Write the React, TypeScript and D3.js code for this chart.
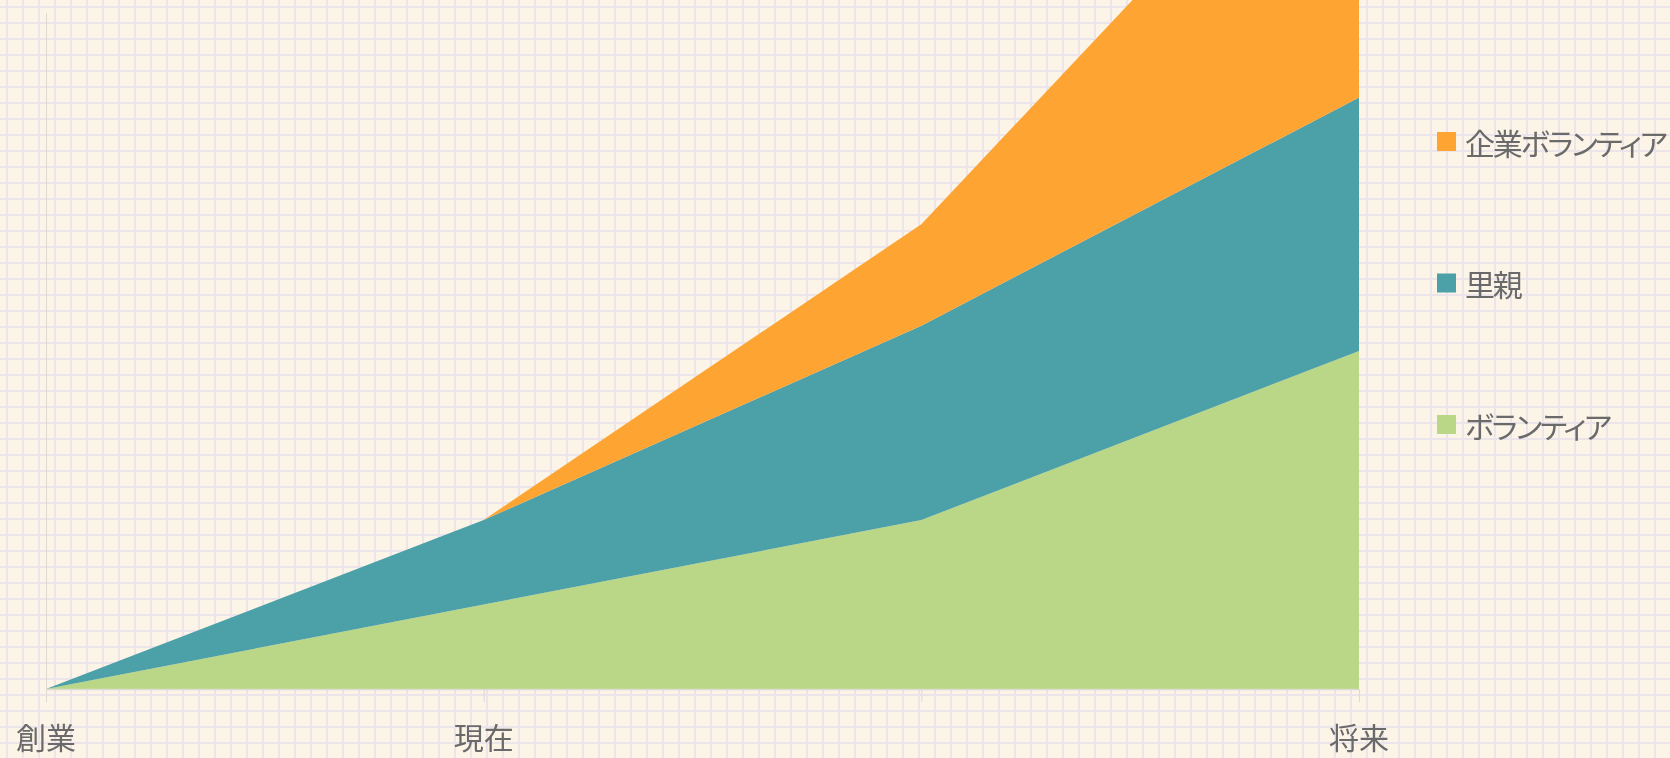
import React, { useEffect, useRef } from "react";
import * as d3 from "d3";

const W = 1670;
const H = 758;

const categories = ["創業", "現在", "", "将来"];
const volunteer = [0, 1, 2, 4];
const fosterParent = [0, 1, 2.3, 3];
const corporateVolunteer = [0, 0, 1.2, 4];

const seriesNames = ["ボランティア", "里親", "企業ボランティア"];
const seriesColors = ["#bad687", "#4ca0a8", "#fda433"];
const legendOrder = [2, 1, 0];

const yMax = 8;

export default function App() {
  const svgRef = useRef<SVGSVGElement | null>(null);

  useEffect(() => {
    document.body.style.margin = "0";
    const svg = d3.select(svgRef.current);
    svg.selectAll("*").remove();

    const font = "'Noto Sans CJK JP', 'Noto Sans', sans-serif";
    const textColor = "#6a6a6a";

    // background paper with grid
    const defs = svg.append("defs");
    const pat = defs
      .append("pattern")
      .attr("id", "paper")
      .attr("width", 16)
      .attr("height", 16)
      .attr("patternUnits", "userSpaceOnUse");
    pat.append("rect").attr("width", 16).attr("height", 16).attr("fill", "#fcf4e6");
    pat.append("rect").attr("x", 6).attr("width", 2).attr("height", 16).attr("fill", "#ebe4ea");
    pat.append("rect").attr("y", 6).attr("width", 16).attr("height", 2).attr("fill", "#ebe4ea");
    svg.append("rect").attr("width", W).attr("height", H).attr("fill", "url(#paper)");

    const x = d3.scalePoint<string>().domain(categories).range([46, 1359]);
    const y = d3.scaleLinear().domain([0, yMax]).range([689, 13]);

    const rows = categories.map((c, i) => ({
      cat: c,
      s0: volunteer[i],
      s1: fosterParent[i],
      s2: corporateVolunteer[i],
    }));
    const stack = d3.stack<any>().keys(["s0", "s1", "s2"]);
    const layers = stack(rows);

    const area = d3
      .area<any>()
      .x((d) => x(d.data.cat) as number)
      .y0((d) => y(d[0]))
      .y1((d) => y(d[1]));

    // value axis line
    svg
      .append("line")
      .attr("x1", 46.5)
      .attr("x2", 46.5)
      .attr("y1", y(yMax))
      .attr("y2", y(0))
      .attr("stroke", "#dcdad2")
      .attr("stroke-width", 1);

    svg
      .append("g")
      .selectAll("path")
      .data(layers)
      .enter()
      .append("path")
      .attr("d", area as any)
      .attr("fill", (d, i) => seriesColors[i]);

    // category axis
    svg
      .append("line")
      .attr("x1", x(categories[0]) as number)
      .attr("x2", x(categories[categories.length - 1]) as number)
      .attr("y1", 689.5)
      .attr("y2", 689.5)
      .attr("stroke", "#dcdad2")
      .attr("stroke-width", 1.5);

    const ax = svg.append("g");
    ax.selectAll("line")
      .data(categories)
      .enter()
      .append("line")
      .attr("x1", (d) => (x(d) as number) + 0.5)
      .attr("x2", (d) => (x(d) as number) + 0.5)
      .attr("y1", 689)
      .attr("y2", 702)
      .attr("stroke", "#dcdad2")
      .attr("stroke-width", 1);

    ax.selectAll("text")
      .data(categories)
      .enter()
      .append("text")
      .attr("x", (d) => x(d) as number)
      .attr("y", 749)
      .attr("text-anchor", "middle")
      .attr("font-family", font)
      .attr("font-size", 30)
      .attr("fill", textColor)
      .text((d) => d);

    // legend
    const lg = svg
      .append("g")
      .selectAll("g")
      .data(legendOrder)
      .enter()
      .append("g")
      .attr("transform", (d, i) => `translate(1437, ${141.5 + i * 141.5})`);
    lg.append("rect")
      .attr("x", 0)
      .attr("y", -9.5)
      .attr("width", 19)
      .attr("height", 19)
      .attr("fill", (d) => seriesColors[d]);
    lg.append("text")
      .attr("x", 28)
      .attr("y", 0)
      .attr("dominant-baseline", "central")
      .attr("font-family", font)
      .attr("font-size", 30)
      .attr("letter-spacing", -2.2)
      .attr("fill", textColor)
      .style("font-feature-settings", "'palt'")
      .text((d) => seriesNames[d]);
  }, []);

  return (
    <svg
      ref={svgRef}
      width={W}
      height={H}
      style={{ position: "fixed", left: 0, top: 0, display: "block" }}
    />
  );
}
